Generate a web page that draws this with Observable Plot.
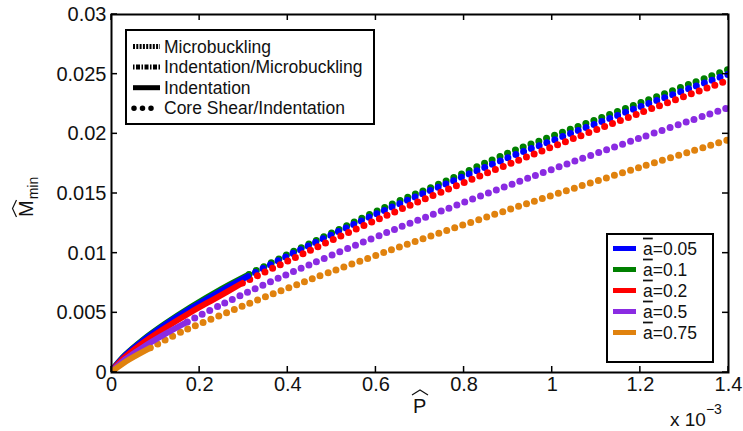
<!DOCTYPE html>
<html><head><meta charset="utf-8">
<script src="https://cdn.jsdelivr.net/npm/d3@7"></script>
<script src="https://cdn.jsdelivr.net/npm/@observablehq/plot@0.6"></script>
<style>
body{margin:0;background:#fff;}
#chart{position:relative;width:743px;height:431px;}
</style>
</head><body><div id="chart"></div>
<script>
// categories (a-bar values), colours, tick labels
const seriesNames = ["0.05", "0.1", "0.2", "0.5", "0.75"];
const seriesColors = ["#0000ff", "#008000", "#ff0000", "#8a2be2", "#e0820e"];
const drawOrder = ["0.1", "0.05", "0.2", "0.5", "0.75"];
const xTicks = [0, 0.2, 0.4, 0.6, 0.8, 1, 1.2, 1.4];        // P-hat, units of 1e-3
const yTicks = [0, 0.005, 0.01, 0.015, 0.02, 0.025, 0.03];
const modeNames = ["Microbuckling", "Indentation/Microbuckling", "Indentation", "Core Shear/Indentation"];

// Indentation branch (solid)
const indP_005 = [0.005, 0.03, 0.07, 0.12, 0.18, 0.25, 0.31];
const indM_005 = [0.00037, 0.0014, 0.00264, 0.00396, 0.00537, 0.00687, 0.00807];
const indP_01  = [0.005, 0.03, 0.07, 0.12, 0.18, 0.25, 0.312];
const indM_01  = [0.00038, 0.00143, 0.0027, 0.00404, 0.00548, 0.00701, 0.00822];
const indP_02  = [0.005, 0.03, 0.07, 0.12, 0.18, 0.24, 0.297];
const indM_02  = [0.00032, 0.00127, 0.00244, 0.00369, 0.00505, 0.0063, 0.0075];
const indP_05  = [0.005, 0.03, 0.07, 0.12, 0.172];
const indM_05  = [0.00026, 0.00107, 0.00208, 0.00319, 0.00424];
const indP_075 = [0.005, 0.04, 0.088];
const indM_075 = [0.0002, 0.00109, 0.00207];

// Core shear / indentation branch (dotted)
const csP_005 = [0.31, 0.4, 0.5, 0.63, 0.75, 0.9, 1.0, 1.2, 1.4];
const csM_005 = [0.00807, 0.00977, 0.01155, 0.01376, 0.01566, 0.018, 0.01943, 0.02227, 0.025];
const csP_01  = [0.312, 0.4, 0.5, 0.63, 0.75, 0.9, 1.0, 1.2, 1.4];
const csM_01  = [0.00822, 0.0099, 0.0117, 0.014, 0.0159, 0.0184, 0.0198, 0.0226, 0.0254];
const csP_02  = [0.297, 0.4, 0.5, 0.63, 0.75, 0.9, 1.0, 1.2, 1.4];
const csM_02  = [0.0075, 0.00934, 0.01109, 0.01325, 0.01515, 0.01744, 0.01891, 0.02176, 0.0245];
const csP_05  = [0.172, 0.25, 0.342, 0.45, 0.63, 0.75, 0.9, 1.0, 1.2, 1.4];
const csM_05  = [0.00424, 0.0057, 0.00729, 0.00905, 0.01181, 0.01355, 0.01566, 0.01703, 0.01966, 0.0222];
const csP_075 = [0.088, 0.164, 0.25, 0.342, 0.45, 0.63, 0.75, 0.9, 1.0, 1.2, 1.4];
const csM_075 = [0.00207, 0.0035, 0.00483, 0.00623, 0.00778, 0.01021, 0.01176, 0.01363, 0.01485, 0.01721, 0.0195];

const indData = {"0.05": [indP_005, indM_005], "0.1": [indP_01, indM_01], "0.2": [indP_02, indM_02], "0.5": [indP_05, indM_05], "0.75": [indP_075, indM_075]};
const csData  = {"0.05": [csP_005, csM_005], "0.1": [csP_01, csM_01], "0.2": [csP_02, csM_02], "0.5": [csP_05, csM_05], "0.75": [csP_075, csM_075]};

const indRows = [], csRows = [];
for (const s of drawOrder) {
  const [ip, im] = indData[s];
  ip.forEach((p, i) => indRows.push({P: p, M: im[i], s}));
  const [cp, cm] = csData[s];
  cp.forEach((p, i) => csRows.push({P: p, M: cm[i], s}));
}

const FONT = "Liberation Sans, Arial, Helvetica, sans-serif";

const plot = Plot.plot({
  width: 743, height: 431,
  marginLeft: 111, marginRight: 15, marginTop: 14, marginBottom: 59,
  style: {fontFamily: FONT, fontSize: "20px", color: "#111", background: "#fff"},
  x: {domain: [0, 1.4]},
  y: {domain: [0, 0.03]},
  color: {domain: seriesNames, range: seriesColors},
  marks: [
    Plot.line(csRows, {x: "P", y: "M", z: "s", stroke: "s", strokeWidth: 7, strokeDasharray: "0 8.4", strokeLinecap: "round", curve: "catmull-rom", clip: true}),
    Plot.line(indRows, {x: "P", y: "M", z: "s", stroke: "s", strokeWidth: 6, strokeLinecap: "round", curve: "catmull-rom", clip: true}),
    Plot.axisX(xTicks, {anchor: "bottom", tickSize: 0, tickPadding: 4, tickFormat: d => String(d), fontSize: 20, label: null}),
    Plot.axisY(yTicks, {anchor: "left", tickSize: 0, tickPadding: 5, tickFormat: d => String(d), fontSize: 20, label: null}),
    Plot.frame({stroke: "#000", strokeWidth: 2})
  ]
});
document.getElementById("chart").appendChild(plot);

const svg = d3.select(plot);
const sx = plot.scale("x"), sy = plot.scale("y");
const [X0, X1] = sx.range, [Y0, Y1] = sy.range; // Y0 bottom, Y1 top

// inward ticks on all four sides (positions from Plot's scales)
const tg = svg.append("g").attr("stroke", "#000").attr("stroke-width", 1.5);
xTicks.forEach(t => {
  const x = sx.apply(t);
  tg.append("line").attr("x1", x).attr("x2", x).attr("y1", Y0).attr("y2", Y0 - 6);
  tg.append("line").attr("x1", x).attr("x2", x).attr("y1", Y1).attr("y2", Y1 + 6);
});
yTicks.forEach(t => {
  const y = sy.apply(t);
  tg.append("line").attr("x1", X0).attr("x2", X0 + 6).attr("y1", y).attr("y2", y);
  tg.append("line").attr("x1", X1).attr("x2", X1 - 6).attr("y1", y).attr("y2", y);
});

const g = svg.append("g").attr("font-family", FONT).attr("fill", "#111").attr("text-anchor", "start");

// y label: M-hat with subscript "min"
const yl = g.append("g").attr("transform", "translate(33,217) rotate(-90)");
yl.append("text").attr("font-size", 20).attr("x", 0).attr("y", 0)
  .text("M").append("tspan").attr("font-size", 14).attr("dy", 5).attr("dx", 1).text("min");
yl.append("path").attr("d", "M0,-16.5 L8.5,-20.5 L17,-16.5").attr("fill", "none").attr("stroke", "#111").attr("stroke-width", 1.2);

// x label: P-hat
g.append("text").attr("font-size", 20).attr("x", 413).attr("y", 413).text("P");
g.append("path").attr("d", "M412,395 L420,390 L428,395").attr("fill", "none").attr("stroke", "#111").attr("stroke-width", 1.2);

// exponent
const ex = g.append("text").attr("font-size", 19).attr("x", 670).attr("y", 426).text("x 10");
ex.append("tspan").attr("font-size", 14).attr("dy", -12).text("\u22123");

// mode legend
const L1 = g.append("g");
L1.append("rect").attr("x", 126).attr("y", 30).attr("width", 248).attr("height", 94)
  .attr("fill", "#fff").attr("stroke", "#000").attr("stroke-width", 2);
const modeDash = ["2 1.3", "1.5 1.5 4 1.5", null, "0 8.5"];
const modeWidth = [5, 5, 5, 5.5];
modeNames.forEach((name, i) => {
  const y = 46.5 + i * 20.6;
  const ln = L1.append("line").attr("x1", i === 3 ? 134 : 133).attr("x2", i === 3 ? 152 : 160).attr("y1", y).attr("y2", y)
    .attr("stroke", "#000").attr("stroke-width", modeWidth[i]);
  if (modeDash[i]) ln.attr("stroke-dasharray", modeDash[i]);
  if (i === 3) ln.attr("stroke-linecap", "round");
  L1.append("text").attr("x", 164).attr("y", y).attr("dy", "0.35em").attr("font-size", 17.5).text(name);
});

// a-bar legend
const L2 = g.append("g");
L2.append("rect").attr("x", 607).attr("y", 234).attr("width", 106).attr("height", 128)
  .attr("fill", "#fff").attr("stroke", "#000").attr("stroke-width", 2);
seriesNames.forEach((name, i) => {
  const y = 248.5 + i * 21;
  L2.append("line").attr("x1", 613).attr("x2", 636).attr("y1", y).attr("y2", y)
    .attr("stroke", seriesColors[i]).attr("stroke-width", 5);
  const t = L2.append("text").attr("x", 643).attr("y", y).attr("dy", "0.35em").attr("font-size", 17.5);
  t.append("tspan").attr("text-decoration", "overline").style("text-decoration", "overline").text("a");
  t.append("tspan").text("=" + name);
});
</script>
</body></html>
